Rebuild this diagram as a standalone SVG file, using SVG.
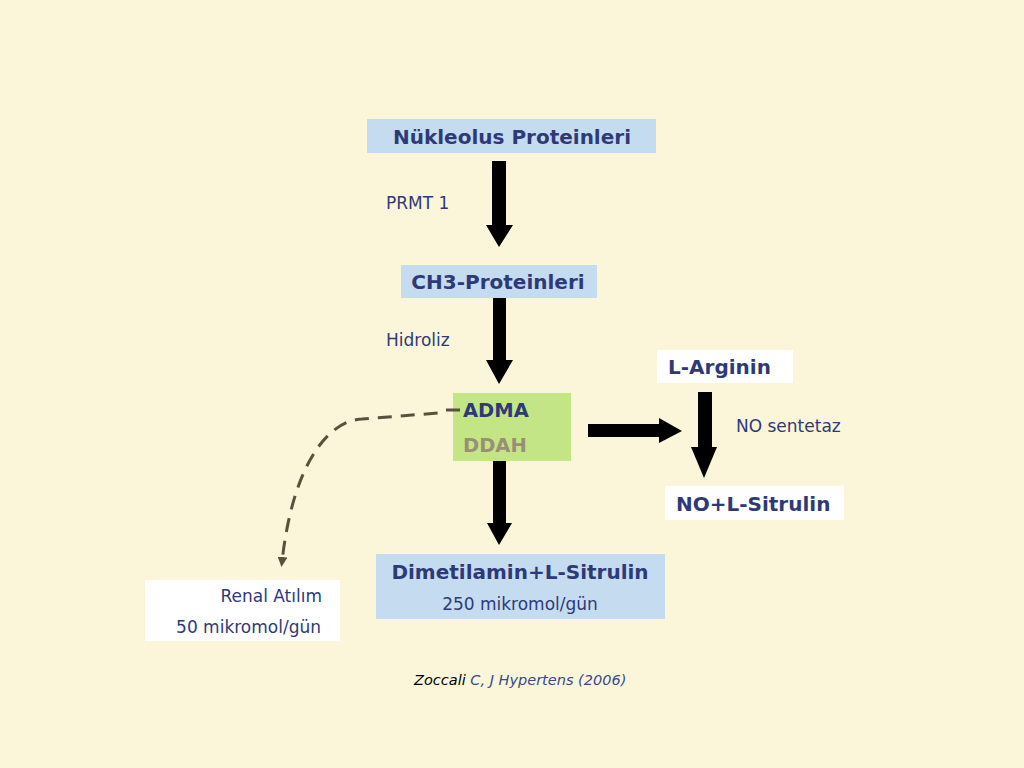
<svg xmlns="http://www.w3.org/2000/svg" width="1024" height="768" viewBox="0 0 1024 768">
<defs>
<style>
.t{font-family:"DejaVu Sans",Verdana,sans-serif;fill:#2E3A78}
.b{font-weight:bold;font-size:20px}
.n{font-size:17px}
.blue{fill:#C5DCF0}
.white{fill:#FFFFFF}
.arr{fill:#000000}
</style>
<marker id="dh" markerWidth="10" markerHeight="10" refX="5" refY="5" orient="auto" markerUnits="userSpaceOnUse" viewBox="0 0 10 10">
<path d="M0,0 L10,5 L0,10 Z" fill="#5A5040"/>
</marker>
</defs>
<rect width="1024" height="768" fill="#FBF6D9"/>
<g id="nukleolus">
<rect class="blue" x="367" y="119" width="289" height="34"/>
<text class="t b" x="512" y="144" text-anchor="middle">Nükleolus Proteinleri</text>
</g>
<g id="ch3">
<rect class="blue" x="401" y="265" width="196" height="33"/>
<text class="t b" x="498" y="289" text-anchor="middle">CH3-Proteinleri</text>
</g>
<g id="adma">
<rect x="453" y="393" width="118" height="68" fill="#C3E585"/>
<text class="t" x="463" y="417" font-weight="bold" font-size="19.5">ADMA</text>
<text x="463" y="452" font-family="DejaVu Sans,Verdana,sans-serif" font-weight="bold" font-size="19.5" fill="#9A8F76">DDAH</text>
</g>
<g id="dimetilamin">
<rect class="blue" x="376" y="554" width="289" height="65"/>
<text class="t b" x="520" y="579" text-anchor="middle">Dimetilamin+L-Sitrulin</text>
<text class="t n" x="520" y="610" text-anchor="middle">250 mikromol/gün</text>
</g>
<g id="renal">
<rect class="white" x="145" y="580" width="195" height="61"/>
<text class="t n" x="322" y="602" text-anchor="end">Renal Atılım</text>
<text class="t n" x="321" y="633" text-anchor="end">50 mikromol/gün</text>
</g>
<g id="larginin">
<rect class="white" x="657" y="350" width="136" height="33"/>
<text class="t b" x="668" y="374">L-Arginin</text>
</g>
<g id="nosit">
<rect class="white" x="665" y="486" width="179" height="34"/>
<text class="t b" x="676" y="511">NO+L-Sitrulin</text>
</g>
<g id="labels">
<text class="t n" x="386" y="209">PRMT 1</text>
<text class="t n" x="386" y="346">Hidroliz</text>
<text class="t n" x="736" y="432">NO sentetaz</text>
<text x="414" y="685" font-family="DejaVu Sans,Verdana,sans-serif" font-style="italic" font-size="14.5" fill="#000000">Zoccali<tspan fill="#3A4A8A"> C, J Hypertens (2006)</tspan></text>
</g>
<g id="connectors">
<polygon class="arr" points="492,161 506,161 506,225 513,225 499,247 486,225 492,225"/>
<polygon class="arr" points="493,298 506,298 506,360 513,360 499,384 486,360 493,360"/>
<polygon class="arr" points="493,461 506,461 506,523 512,523 499,545 487,523 493,523"/>
<polygon class="arr" points="588,424 659,424 659,418 682,431 659,443 659,437 588,437"/>
<polygon class="arr" points="698,392 712,392 712,447 717,447 704,478 691,447 698,447"/>
<path d="M460,410 L445,410 L438,413 L362,419 C325,421 292,470 282,562" fill="none" stroke="#5A5040" stroke-width="3" stroke-dasharray="14,9" marker-end="url(#dh)"/>
</g>
</svg>
